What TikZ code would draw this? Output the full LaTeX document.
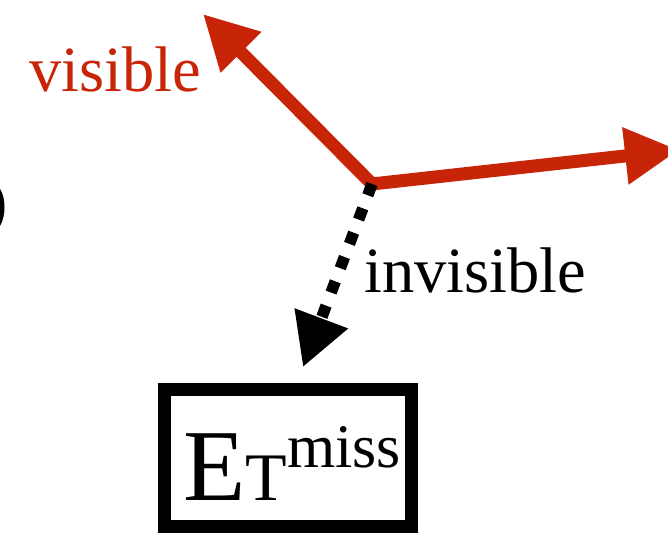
\documentclass[tikz,border=0pt]{standalone}
\usepackage{fontspec}
\setmainfont{Liberation Serif}
\usetikzlibrary{arrows.meta}
\definecolor{vred}{RGB}{200,36,8}
\tikzset{
  redarrow/.style={draw=vred, line width=13pt, -{Triangle[length=54pt,width=54pt]}, color=vred},
  invarrow/.style={draw=black, line width=11.5pt, dash pattern=on 12pt off 14pt, -{Triangle[length=52pt,width=54pt]}},
  etbox/.style={draw=black, line width=13pt, minimum width=247pt, minimum height=137pt, inner sep=0pt},
  lbl/.style={inner sep=0pt, font=\fontsize{64.5}{70}\selectfont}
}
\begin{document}
\begin{tikzpicture}[x=1pt,y=-1pt]
\useasboundingbox (0,0) rectangle (668,534);
\clip (0,0) rectangle (668,534);
% partial bracket at left edge
\fill[black] (0,189) .. controls (6,198) and (6,216) .. (0,226) -- cycle;
\coordinate (o) at (372,184);
\coordinate (vis) at (203,14);
\coordinate (rgt) at (679,150);
\coordinate (inv) at (303,367);
\node[etbox] (box) at (288,458) {};
\draw[redarrow] (o) -- (vis);
\draw[redarrow] (o) -- (rgt);
\draw[invarrow] (o) -- (inv);
\node[lbl, text=vred, anchor=base west] (vislbl) at (29,92) {visible};
\node[lbl, anchor=base west] (invlbl) at (364,292) {invisible};
\node[inner sep=0pt, anchor=base west] (etlbl) at (183,500)
  {{\fontsize{102}{102}\selectfont E}{\fontsize{68}{68}\selectfont T}{\fontsize{62}{62}\selectfont\raisebox{33pt}{miss}}};
\end{tikzpicture}
\end{document}
